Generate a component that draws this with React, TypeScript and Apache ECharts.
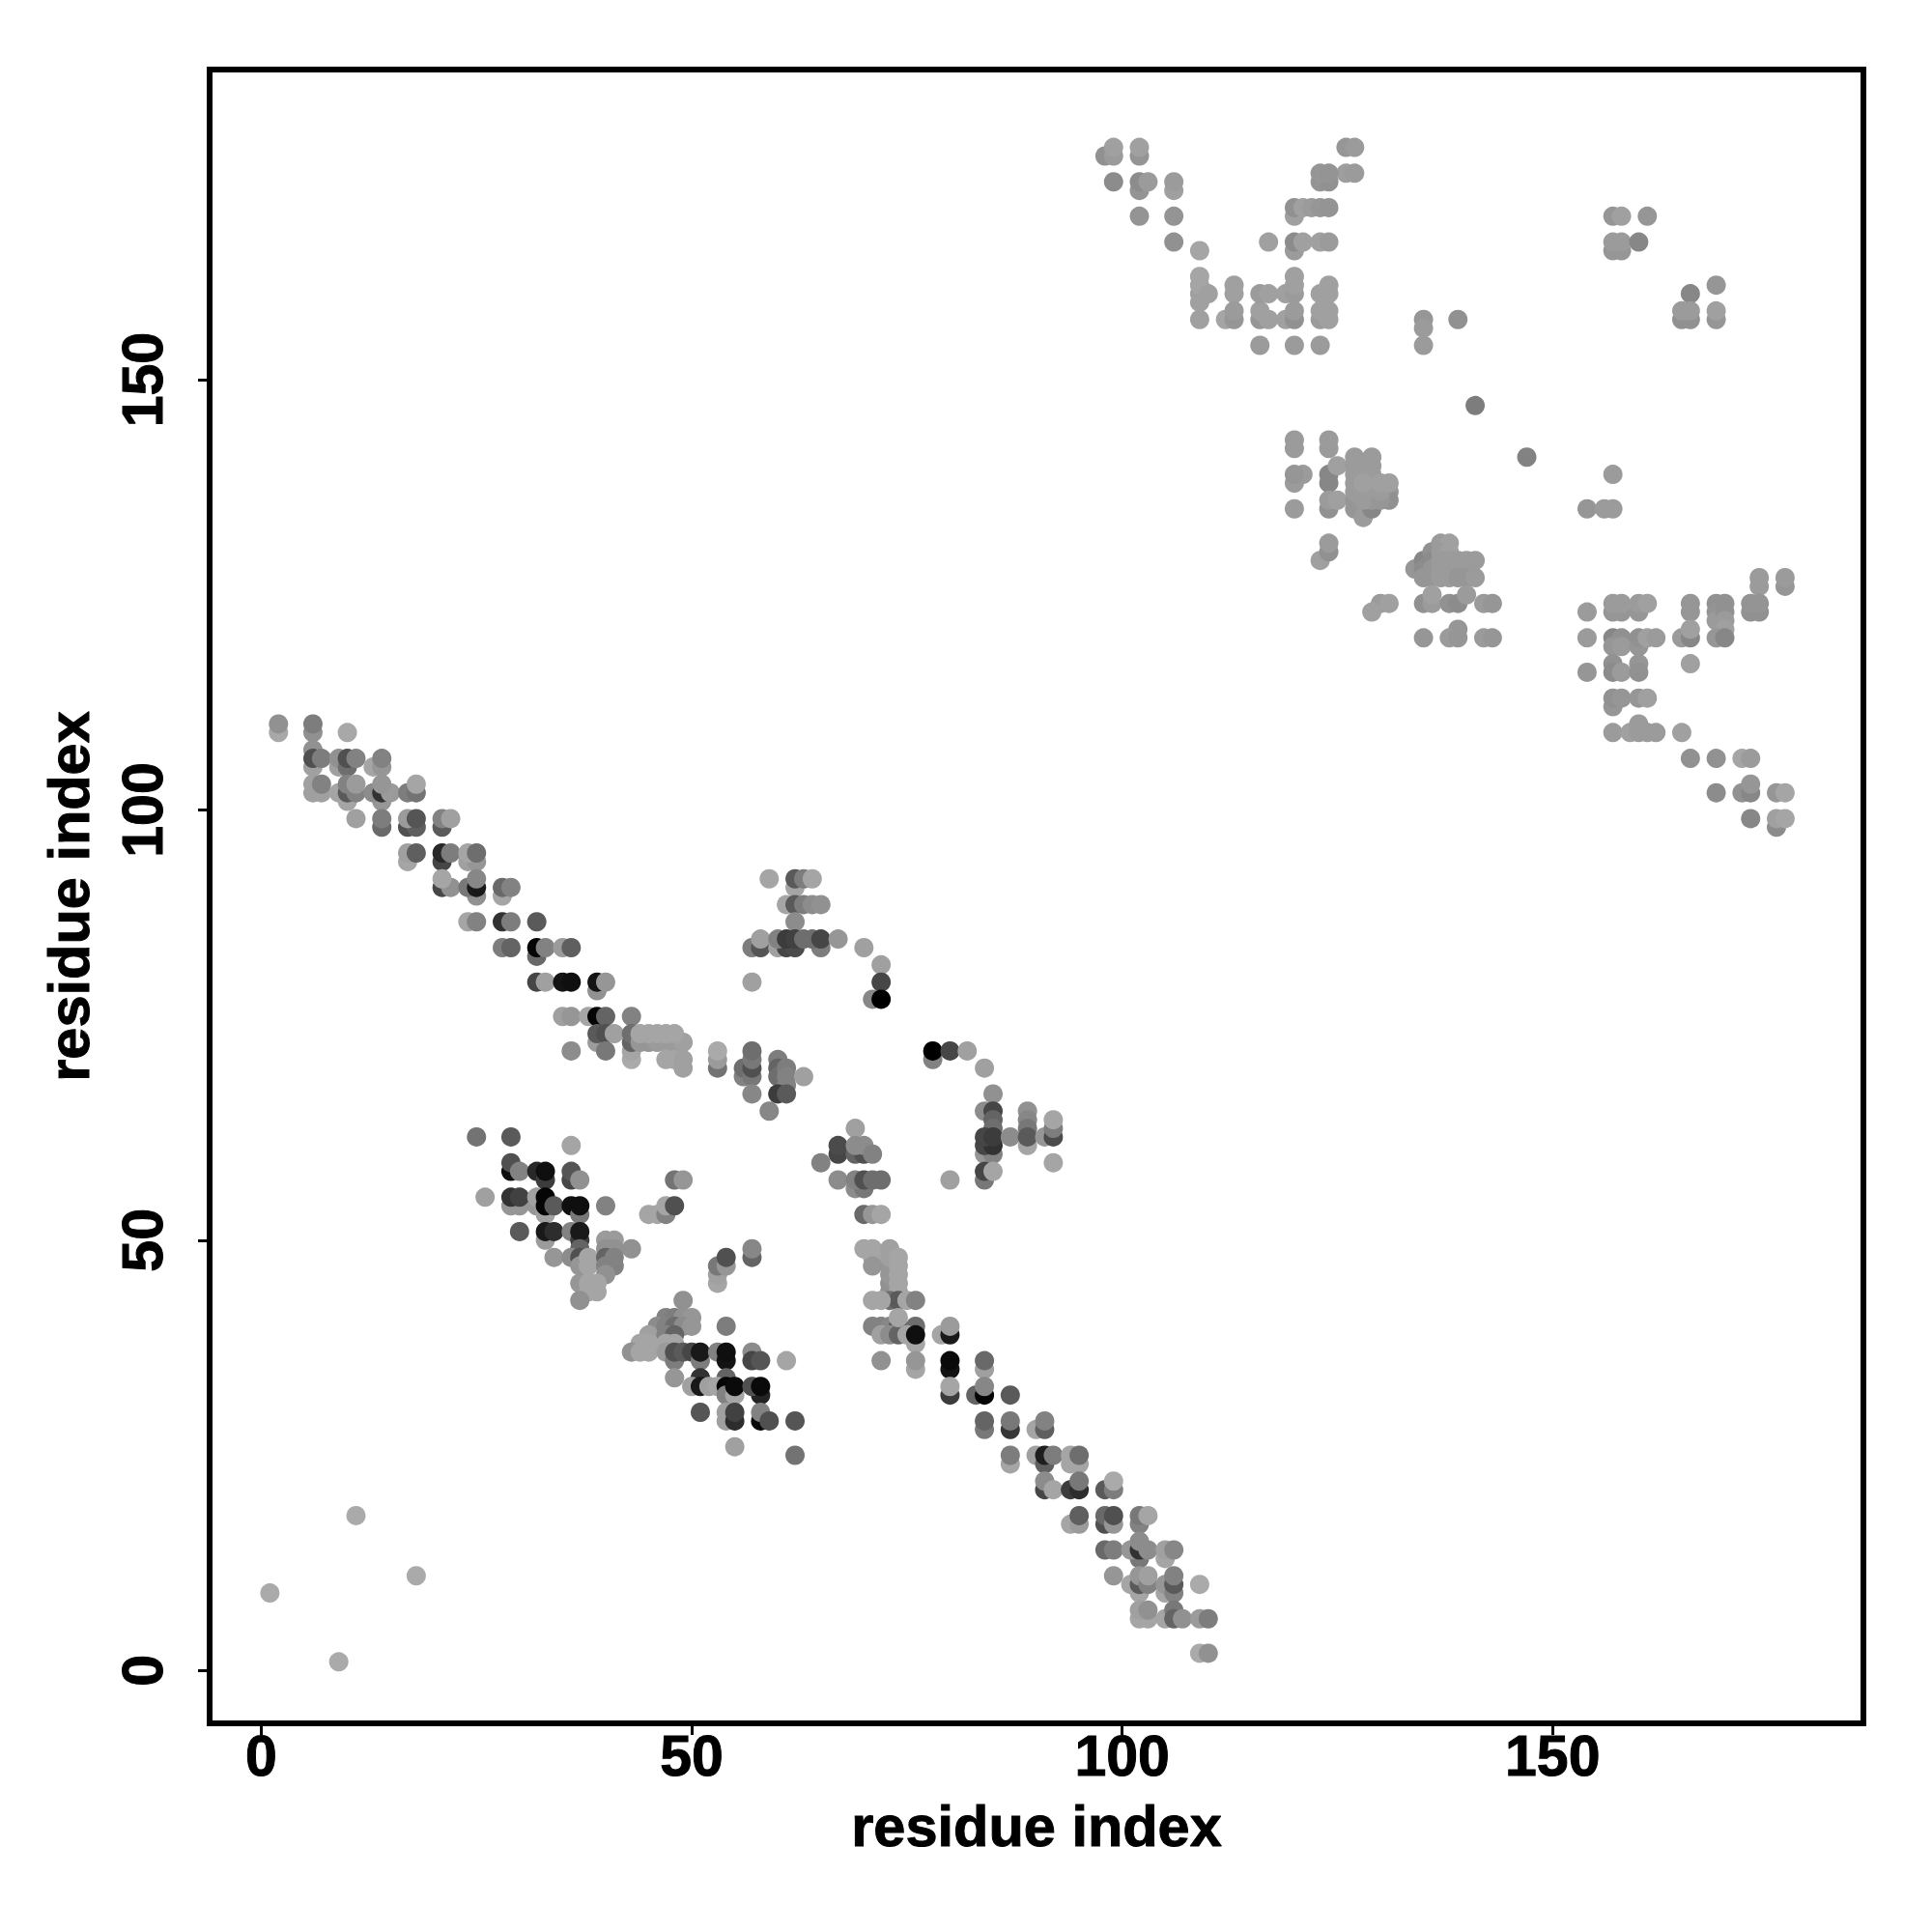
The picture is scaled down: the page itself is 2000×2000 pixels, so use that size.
import React, { useEffect, useRef } from "react";
import * as echarts from "echarts";

type Contact = [number, number, number];

const tickValues = [0, 50, 100, 150];
const axisTitle = "residue index";

const isolated: Contact[] = [[1,9,170],[9,1,170],[11,18,170],[18,11,170]];

const upperDiagonal: Contact[] = [
  [2,109,168],[2,110,145],[6,109,145],[6,110,125],[10,109,168],
  [6,105,160],[6,107,145],[6,106,80],[7,106,125],[9,105,160],[9,106,145],[10,105,110],[10,106,80],[11,106,130],[13,105,165],[14,105,150],[14,106,130],
  [10,101,165],[14,101,150],[6,102,160],[7,102,160],[9,102,165],[10,102,90],[11,102,130],[13,102,140],[14,102,50],[15,102,155],[17,102,125],[18,102,115],
  [6,103,160],[7,103,130],[10,103,130],[11,103,155],[14,103,150],[18,103,165],
  [14,98,105],[17,98,80],[18,98,95],[21,98,90],[11,99,160],[14,99,125],[17,99,155],[18,99,85],[21,99,130],[22,99,160],
  [17,94,165],[21,94,70],[24,94,160],[25,94,150],[17,95,160],[18,95,95],[21,95,40],[22,95,125],[24,95,165],[25,95,110],
  [25,90,145],[28,90,165],[21,91,70],[22,91,145],[24,91,120],[25,91,25],[28,91,105],[29,91,130],[21,92,165],[25,92,135],
  [24,87,165],[25,87,130],[28,87,50],[29,87,125],[32,87,90],
  [32,83,105],[28,84,125],[29,84,100],[32,84,5],[33,84,130],[35,84,155],[36,84,95],
  [39,79,145],[32,80,70],[33,80,160],[35,80,20],[36,80,15],[39,80,20],[40,80,150],
  [35,76,160],[36,76,150],[38,76,165],[39,76,5],[40,76,100],[43,76,130],
  [39,73,155],[39,74,90],[40,74,80],[41,74,160],[40,72,120],[36,72,140],
  [43,71,170],[43,72,165],[43,73,100],[43,74,110],
  [44,73,150],[45,73,150],[46,73,155],[47,73,155],[48,73,155],[49,73,160],
  [44,74,165],[45,74,165],[46,74,165],[47,74,165],[48,74,165],
  [47,71,165],[48,71,165],[49,70,160],[49,71,160],
  [53,70,115],[53,71,155],[53,72,170],[56,69,130],[56,70,110],[57,69,120],[57,70,80],[57,71,120],[57,72,110],[57,67,135],[59,65,135],
  [60,71,125],[60,70,100],[60,69,110],[61,70,125],[61,69,130],[61,68,130],[60,67,60],[61,67,90],[63,69,160],
];

const middleBlocks: Contact[] = [
  [59,92,165],[62,91,165],[62,92,90],[63,92,125],[64,92,165],
  [61,89,165],[62,89,90],[63,89,125],[64,89,140],[65,89,145],[62,87,140],
  [57,84,125],[58,84,85],[60,84,160],[61,84,70],[62,84,75],[65,84,125],
  [58,85,160],[60,85,130],[61,85,60],[62,85,65],[63,85,110],[64,85,110],[65,85,70],[67,85,150],
  [70,84,160],[72,82,160],[72,80,70],[71,78,135],[72,78,0],[57,80,160],
  [78,71,130],[78,72,0],[80,72,70],[82,72,160],[84,70,160],[85,67,145],[84,65,140],[85,65,70],[85,64,100],[85,63,110],
  [84,60,150],[85,60,130],[84,61,70],[85,61,50],[84,62,70],[85,62,60],[87,62,140],[89,61,165],[89,65,145],[89,64,135],[89,63,120],[89,62,90],[91,62,150],[92,62,75],[92,63,125],[92,64,165],[92,59,165],
  [84,57,120],[80,57,160],[84,58,70],[85,58,165],
  [69,63,160],[67,60,70],[67,61,75],[69,60,100],[70,60,80],[69,61,140],[70,61,140],[71,60,130],[65,59,130],
  [69,56,140],[70,56,120],[67,57,140],[69,57,130],[70,57,80],[71,57,110],[72,57,110],
  [70,53,105],[71,53,150],[72,53,165],
];

const lowerWedge: Contact[] = [
  [25,62,115],[29,62,90],[36,61,165],[29,58,15],[29,59,80],[30,58,130],[32,58,40],[33,57,60],[33,58,15],[36,57,70],[36,58,85],[37,57,145],
  [29,54,150],[30,54,150],[32,54,150],[26,55,160],[29,55,50],[30,55,65],[32,55,160],[33,53,160],[33,55,5],[33,54,5],[34,54,90],[36,54,15],[37,53,120],[37,54,15],[40,54,130],
  [33,50,155],[30,51,90],[33,51,25],[34,51,45],[36,51,130],[37,50,60],[37,51,25],
  [37,49,100],[34,48,150],[36,48,140],[37,48,80],[37,47,150],[38,48,165],[38,47,165],
  [40,50,155],[41,50,155],[40,49,145],[41,49,145],[43,49,145],[40,48,100],[41,48,130],[40,47,130],[41,47,130],[40,46,145],
  [37,45,150],[38,45,165],[39,45,165],[38,44,165],[39,44,165],[37,43,145],
  [45,53,165],[46,53,165],[47,53,130],[47,54,165],[48,54,80],[48,57,115],[49,57,150],
  [53,45,165],[53,46,160],[53,47,120],[54,47,150],[54,48,80],[57,48,100],[57,49,135],
];

const lowerCluster: Contact[] = [
  [49,43,145],[47,41,130],[48,41,125],[49,41,145],[50,41,150],[46,40,140],[47,40,130],[48,40,110],[49,40,140],[50,40,150],[54,40,125],
  [45,39,160],[47,39,130],[48,39,100],[44,38,165],[45,38,165],[47,38,165],[48,38,165],
  [43,37,145],[44,37,165],[45,37,165],[47,37,155],[48,36,125],[48,37,80],[49,37,90],[50,37,70],[51,36,125],[51,37,25],[53,37,130],[54,36,20],[54,37,15],[57,37,140],[57,36,70],[58,36,85],[61,36,165],
  [48,34,150],[51,34,50],[54,34,100],[50,33,160],[51,33,25],[52,33,160],[53,33,165],[54,33,5],[54,32,130],[55,32,165],[55,33,10],[58,32,35],[57,33,80],[58,33,10],
  [51,30,85],[54,29,160],[54,30,160],[55,29,45],[55,30,65],[58,29,10],[58,30,130],[59,29,80],[62,29,85],[55,26,160],[62,25,115],
];

const lowerDiagonal: Contact[] = [
  [70,49,165],[71,49,165],[71,48,165],[71,47,150],
  [73,44,145],[73,45,145],[73,46,150],[73,47,150],[73,48,160],[73,49,160],[74,44,165],[74,45,165],[74,46,165],[74,47,165],[74,48,165],
  [73,43,110],[74,43,90],[71,43,165],[72,43,165],[75,43,165],[76,43,130],
  [71,40,130],[72,40,130],[73,40,135],[74,40,85],[76,40,110],[72,39,160],[73,39,140],[74,39,100],[75,39,165],[76,38,165],[76,39,15],[74,41,165],[79,39,165],[80,39,25],[80,40,155],
  [72,36,145],[76,35,165],[76,36,150],[80,35,20],[80,36,10],[84,35,160],[84,36,105],
  [80,32,60],[80,33,165],[83,32,100],[84,32,5],[84,33,135],[87,32,90],
  [84,28,120],[84,29,100],[87,28,55],[87,29,120],[90,28,165],[91,28,95],[91,29,130],
  [87,24,165],[87,25,125],[90,25,160],[91,24,95],[91,25,30],[92,25,125],[94,25,165],[94,24,165],[95,24,165],[95,25,110],
  [91,21,70],[91,22,140],[92,21,165],[94,21,60],[95,21,45],[95,22,120],[98,21,90],[99,21,125],[99,22,170],
  [94,17,165],[95,17,155],[95,18,95],[98,17,80],[98,18,105],[99,17,150],[99,18,80],[102,17,130],[102,18,120],[103,18,165],
  [98,14,105],[99,14,125],[102,13,120],[101,14,150],[102,14,50],[102,15,140],[103,14,140],[105,13,165],[105,14,160],[106,14,135],
  [99,11,150],[101,10,165],[102,9,165],[102,10,90],[102,11,150],[103,10,130],[103,11,160],[105,9,165],[105,10,150],[106,9,130],[106,10,90],[106,11,130],[109,10,170],
  [102,6,165],[103,6,165],[102,7,160],[103,7,145],[105,6,165],[106,7,120],[106,6,100],[107,6,145],[109,6,155],[110,6,125],[109,2,170],[110,2,145],
];

const topRight: Contact[] = [
  [98,176,145],[99,176,155],[99,177,160],[102,176,148],[102,177,160],[99,173,140],[102,172,148],[102,173,140],[103,173,155],[106,172,160],[106,173,155],[102,169,148],[106,169,148],[106,166,145],[109,165,165],
  [126,177,150],[127,177,155],[126,174,158],[127,174,155],[123,173,148],[124,173,145],[123,174,150],[124,174,148],
  [120,169,160],[120,170,145],[121,170,160],[122,170,155],[123,170,150],[124,170,148],
  [117,166,160],[120,165,155],[120,166,140],[121,166,160],[123,166,160],[124,166,155],
  [109,159,160],[109,160,160],[109,161,165],[109,162,165],[110,160,160],[109,157,160],
  [113,160,160],[113,161,160],[112,157,165],[113,157,150],[113,158,155],
  [116,157,150],[116,158,160],[117,157,160],[116,160,155],[117,160,160],[116,154,155],
  [119,160,160],[120,160,155],[120,161,160],[120,162,160],[119,157,160],[120,157,145],[120,158,155],[120,154,155],
  [123,160,160],[124,160,160],[124,161,160],[123,157,155],[124,157,160],[123,158,160],[124,158,160],[123,154,155],
  [135,157,150],[135,156,155],[135,154,155],[139,157,145],
  [157,169,150],[158,169,160],[161,169,150],[157,165,150],[158,165,150],[157,166,155],[158,166,155],[160,166,135],
  [169,161,150],[166,160,135],[165,157,145],[166,157,145],[165,158,155],[166,158,155],[169,157,150],[169,158,160],
];

const centerRight: Contact[] = [
  [141,147,125],[147,141,130],[157,139,155],[154,135,150],[156,135,155],[157,135,155],
  [120,142,155],[120,143,155],[121,139,155],[120,138,155],[120,139,150],[120,135,155],
  [124,142,155],[124,143,155],[124,138,135],[124,139,135],[125,140,160],[124,135,145],[124,136,155],[125,136,160],[123,129,160],[124,130,145],[124,131,155],
  [127,135,150],[127,136,150],[127,137,155],[127,138,155],[127,139,155],[127,140,155],[127,141,155],
  [128,134,155],[129,135,135],[129,136,150],[129,137,155],[129,138,160],[129,139,155],[129,140,155],[129,141,155],[128,136,155],[128,137,155],[128,138,160],
  [131,137,150],[131,136,145],[130,136,150],[130,137,155],[130,138,160],[131,138,160],
  [134,128,150],[135,129,135],[135,128,140],[135,127,150],[136,130,145],[136,129,140],[136,128,150],[136,127,150],[137,131,155],[138,131,160],[137,130,155],[138,130,160],[137,129,155],[138,129,155],[137,128,155],[137,127,155],[138,127,155],
  [139,129,155],[140,129,155],[141,129,155],[139,128,155],[140,128,155],[139,127,150],[140,127,150],[141,127,155],
  [130,124,155],[131,124,160],[129,123,160],[135,124,145],[136,124,155],[136,125,160],[138,124,145],[139,124,140],[140,125,155],[142,124,155],[143,124,150],
  [139,121,150],[135,120,150],[138,120,155],[139,120,150],[142,120,155],[143,120,150],
];

const rightBlocks: Contact[] = [
  [174,126,155],[174,127,155],[177,126,150],[177,127,155],[173,123,145],[174,123,145],[173,124,148],[174,124,148],
  [154,123,155],[157,123,150],[158,123,150],[157,124,155],[158,124,155],[160,123,150],[160,124,155],[161,124,160],
  [166,123,150],[166,124,150],[169,124,145],[169,123,148],[169,122,155],[170,124,145],[170,123,145],[170,122,155],[170,121,160],
  [157,120,135],[158,120,145],[157,119,150],[158,119,155],[160,119,150],[160,120,145],[161,120,160],[162,120,155],
  [154,120,155],[165,120,155],[166,120,135],[166,121,160],[169,120,150],[170,120,135],
  [157,117,145],[160,117,150],[166,117,160],[154,116,150],[157,116,140],[158,116,155],[160,116,145],
  [157,112,150],[157,113,145],[158,113,150],[160,113,150],[161,113,160],
  [157,109,155],[159,109,160],[160,110,155],[160,109,155],[161,109,155],[162,109,155],[165,109,160],
  [166,106,145],[169,106,145],[172,106,165],[173,106,155],[169,102,140],[172,102,145],[173,102,135],[173,103,150],[176,102,150],[177,102,165],
  [173,99,135],[176,98,140],[176,99,160],[177,99,165],
];

const contacts: Contact[] = [
  ...isolated, ...upperDiagonal, ...middleBlocks, ...lowerWedge, ...lowerCluster, ...lowerDiagonal, ...topRight, ...centerRight, ...rightBlocks,
];

const FONT = "Liberation Sans";
const heavyText = { fontFamily: FONT, fontWeight: "bold", color: "#000", textBorderColor: "#000", textBorderWidth: 1 };

function axis(min: number, max: number, nameGap: number, labelMargin: number, rotate: number, nameRotate: number) {
  return {
    type: "value",
    min,
    max,
    name: axisTitle,
    nameLocation: "middle",
    nameGap,
    nameRotate,
    nameTextStyle: { ...heavyText, fontSize: 59.5 },
    axisLine: { show: true, onZero: false, lineStyle: { color: "#000", width: 6 } },
    axisTick: { show: true, customValues: tickValues, length: 12, lineStyle: { color: "#000", width: 3 } },
    axisLabel: { show: true, customValues: tickValues, rotate, margin: labelMargin, ...heavyText, fontSize: 59 },
    splitLine: { show: false },
  };
}

export default function App() {
  const ref = useRef<HTMLDivElement>(null);
  useEffect(() => {
    const chart = echarts.init(ref.current!, undefined, { renderer: "svg" });
    chart.setOption({
      animation: false,
      backgroundColor: "#fff",
      grid: { left: 217, top: 72, width: 1712, height: 1712, show: true, borderColor: "#000", borderWidth: 6, backgroundColor: "transparent" },
      xAxis: axis(-6, 186.1, 76, 4, 0, 0),
      yAxis: axis(-6.15, 186.05, 116, 40, 90, 90),
      series: [{
        type: "scatter",
        symbol: "circle",
        symbolSize: 20,
        data: contacts.map(([x, y, s]) => ({
          value: [x, y],
          itemStyle: { color: `rgb(${s},${s},${s})`, opacity: 1 },
        })),
        emphasis: { disabled: true },
      }],
    });
    return () => chart.dispose();
  }, []);
  return <div ref={ref} style={{ position: "absolute", left: 0, top: 0, width: 2000, height: 2000 }} />;
}
